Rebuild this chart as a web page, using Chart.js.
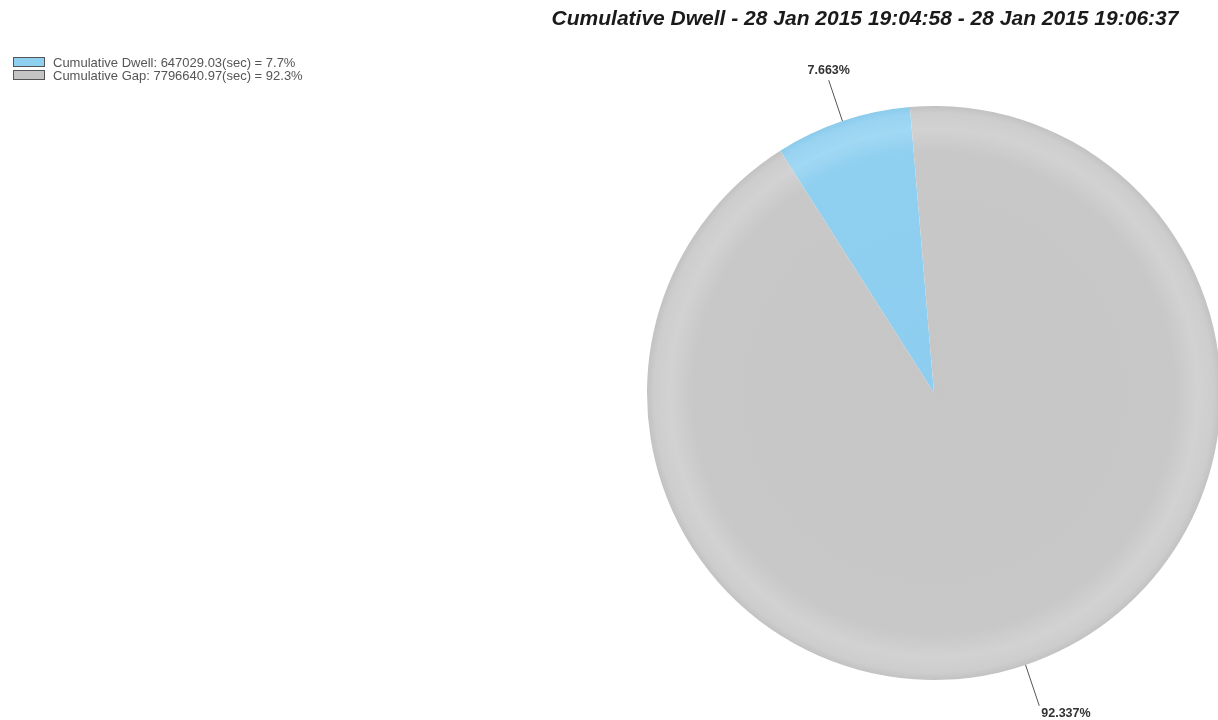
<!DOCTYPE html>
<html>
<head>
<meta charset="utf-8">
<title>Cumulative Dwell</title>
<script src="https://cdn.jsdelivr.net/npm/chart.js@4.4.1/dist/chart.umd.min.js"></script>
<style>
    html, body { margin: 0; padding: 0; background: #fff; overflow: hidden; }
    #wrap { position: relative; width: 1230px; height: 720px; }
</style>
</head>
<body>
<div id="wrap"><canvas id="dwell-chart"></canvas></div>
<script>
// Dwell vs gap totals (seconds)
const sliceNames = ['Cumulative Dwell', 'Cumulative Gap'];
const sliceSeconds = [647029.03, 7796640.97];
const titleText = 'Cumulative Dwell - 28 Jan 2015 19:04:58 - 28 Jan 2015 19:06:37';

// Radial shading stops for each slice: [position, colour]
const shading = [
    [[0, '#8dcdef'], [0.84, '#8fcff0'], [0.92, '#a1d8f3'], [0.975, '#98d3f1'], [1, '#8ccbeb']],
    [[0, '#c6c6c6'], [0.84, '#c8c8c8'], [0.92, '#d2d2d2'], [0.975, '#cdcdcd'], [1, '#c2c2c2']]
];
const flatColors = ['#8fcff0', '#c4c4c4'];

const total = sliceSeconds.reduce((a, b) => a + b, 0);
const pct = (v, digits) => (v / total * 100).toFixed(digits) + '%';

function sliceFill(context) {
    const chart = context.chart;
    const area = chart.chartArea;
    if (!area) return flatColors[context.dataIndex];
    const cx = (area.left + area.right) / 2;
    const cy = (area.top + area.bottom) / 2;
    const r = Math.min(area.right - area.left, area.bottom - area.top) / 2;
    const g = chart.ctx.createRadialGradient(cx, cy, 0, cx, cy, r);
    shading[context.dataIndex].forEach(([pos, col]) => g.addColorStop(pos, col));
    return g;
}

// Title, legend block and outside percentage labels with leader lines
const decorations = {
    id: 'decorations',
    afterDatasetsDraw(chart) {
        const ctx = chart.ctx;
        ctx.save();

        // title
        ctx.fillStyle = '#1a1a1a';
        ctx.font = 'italic bold 21px "Liberation Sans", Arial, sans-serif';
        ctx.textAlign = 'center';
        ctx.textBaseline = 'middle';
        ctx.fillText(titleText, 865, 19);

        // legend
        ctx.font = '13px "Liberation Sans", Arial, sans-serif';
        ctx.textAlign = 'left';
        ctx.textBaseline = 'middle';
        sliceNames.forEach((name, i) => {
            const y = 57 + i * 13;
            ctx.fillStyle = flatColors[i];
            ctx.fillRect(13, y, 32, 9);
            ctx.strokeStyle = '#555';
            ctx.lineWidth = 1;
            ctx.strokeRect(13.5, y + 0.5, 31, 9);
            ctx.fillStyle = '#555';
            ctx.fillText(name + ': ' + sliceSeconds[i] + '(sec) = ' + pct(sliceSeconds[i], 1), 53, y + 6);
        });

        // slice labels
        const meta = chart.getDatasetMeta(0);
        ctx.font = 'bold 12.5px "Liberation Sans", Arial, sans-serif';
        meta.data.forEach((arc, i) => {
            const p = arc.getProps(['x', 'y', 'startAngle', 'endAngle', 'outerRadius'], true);
            const mid = (p.startAngle + p.endAngle) / 2;
            const dx = Math.cos(mid), dy = Math.sin(mid);
            const x1 = p.x + dx * p.outerRadius, y1 = p.y + dy * p.outerRadius;
            const x2 = p.x + dx * (p.outerRadius + 43), y2 = p.y + dy * (p.outerRadius + 43);
            ctx.strokeStyle = '#555';
            ctx.lineWidth = 1;
            ctx.beginPath();
            ctx.moveTo(x1, y1);
            ctx.lineTo(x2, y2);
            ctx.stroke();
            ctx.fillStyle = '#333';
            const label = pct(sliceSeconds[i], 3);
            if (dy < 0) {
                ctx.textAlign = 'center';
                ctx.textBaseline = 'bottom';
                ctx.fillText(label, x2, y2 - 3);
            } else {
                ctx.textAlign = 'left';
                ctx.textBaseline = 'top';
                ctx.fillText(label, x2 + 2, y2 + 2);
            }
        });
        ctx.restore();
    }
};

const dwellCtx = document.getElementById('dwell-chart').getContext('2d');
window.dwellChart = new Chart(dwellCtx, {
    type: 'pie',
    data: {
        labels: sliceNames,
        datasets: [{
            data: sliceSeconds,
            backgroundColor: sliceFill,
            borderWidth: 0
        }]
    },
    options: {
        responsive: true,
        maintainAspectRatio: false,
        animation: false,
        rotation: -32.4,
        events: [],
        layout: {
            padding: { left: 647, right: 9, top: 106, bottom: 40 }
        },
        plugins: {
            legend: { display: false },
            title: { display: false },
            tooltip: { enabled: false }
        }
    },
    plugins: [decorations]
});
</script>
</body>
</html>
